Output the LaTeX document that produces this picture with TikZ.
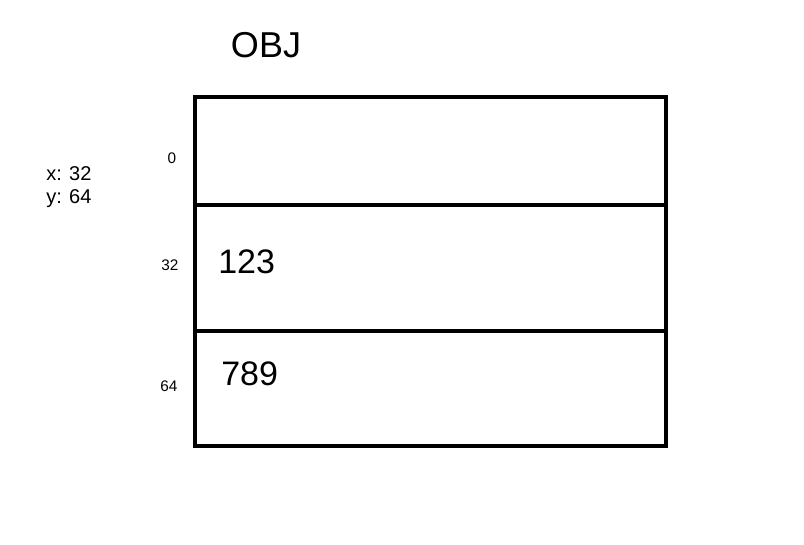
\documentclass[tikz,border=0pt]{standalone}
\usepackage{fontspec}
\setmainfont{Liberation Sans}
\usetikzlibrary{positioning}

\tikzset{
  cell/.style={draw, line width=2.6pt, minimum width=471*0.75pt, inner sep=0pt, outer sep=0pt},
  offs/.style={font=\fontsize{11.5}{13}\selectfont},
  val/.style={font=\fontsize{25.5}{30}\selectfont, anchor=west, inner sep=0pt},
}

\begin{document}
\begin{tikzpicture}[x=0.75pt, y=-0.75pt]
	\useasboundingbox (0,0) rectangle (804,545);

	\node (title) at (266,45) {\fontsize{27}{32}\selectfont OBJ};

	\node (c0) [cell, minimum height=108*0.75pt, anchor=north west] at (195,97) {};
	\node (c1) [cell, minimum height=126*0.75pt, below=0pt of c0] {};
	\node (c2) [cell, minimum height=115*0.75pt, below=0pt of c1] {};

	\node (o0) [offs] at (172,158) {0};
	\node (o1) [offs] at (170,265) {32};
	\node (o2) [offs] at (169,386) {64};

	\node (v1) [val] at (218,262) {123};
	\node (v2) [val] at (221,374) {789};

	\node (px) [anchor=west, inner sep=0pt, font=\fontsize{15}{18}\selectfont] at (46,174) {x: 32};
	\node (py) [anchor=west, inner sep=0pt, font=\fontsize{15}{18}\selectfont] at (46,199) {y: 64};

\end{tikzpicture}
\end{document}
